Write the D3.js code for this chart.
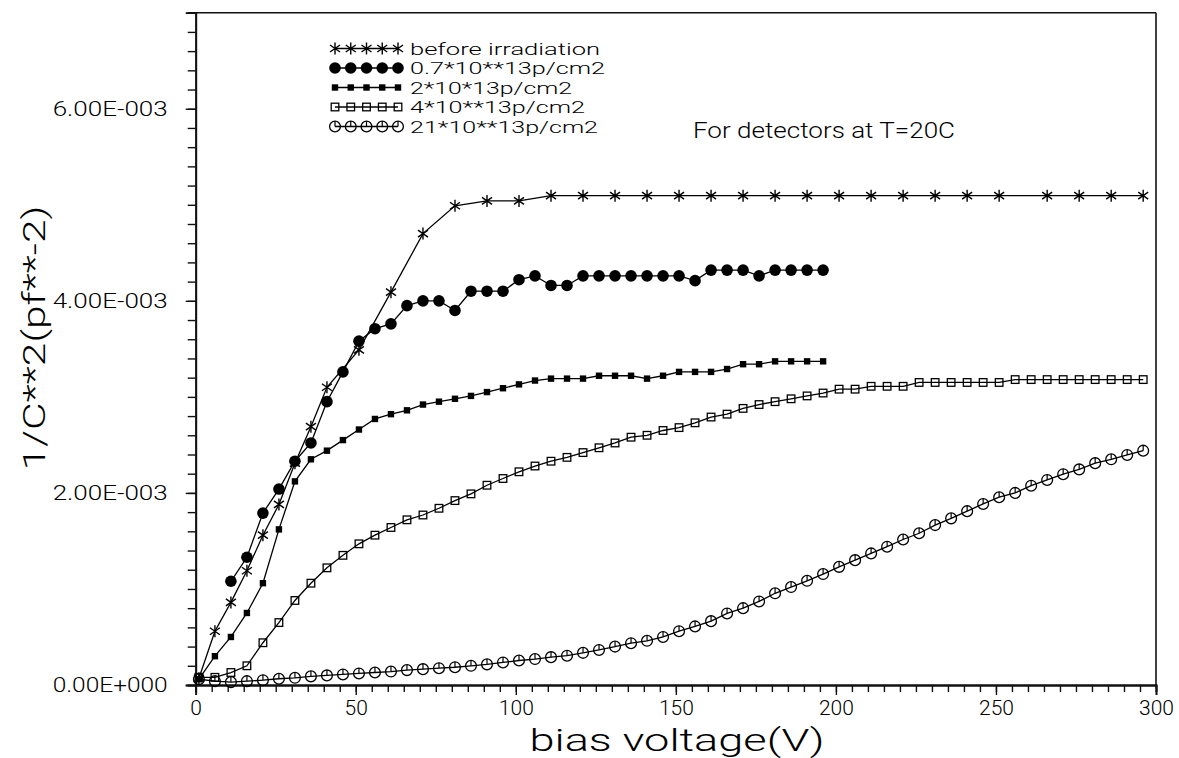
<!DOCTYPE html>
<html><head><meta charset="utf-8">
<script src="https://cdn.jsdelivr.net/npm/d3@7"></script>
<style>body{margin:0;background:#fff}svg{display:block}</style></head>
<body><svg id="c" width="1179" height="758"></svg>
<script>
// values in units of 1E-3 pF^-2, voltage in V
const beforeX = [1,6,11,16,21,26,31,36,41,51,61,71,81,91,101,111,121,131,141,151,161,171,181,191,201,211,221,231,241,251,266,276,286,296];
const beforeY = [0.07,0.56,0.86,1.19,1.56,1.88,2.31,2.69,3.10,3.49,4.09,4.70,4.99,5.04,5.04,5.095,5.095,5.095,5.095,5.095,5.095,5.095,5.095,5.095,5.095,5.095,5.095,5.095,5.095,5.095,5.095,5.095,5.095,5.095];
const s07X = d3.range(11, 197, 5);
const s07Y = [1.08,1.33,1.79,2.04,2.33,2.52,2.95,3.26,3.58,3.71,3.76,3.95,4.00,4.00,3.90,4.10,4.10,4.10,4.22,4.26,4.16,4.16,4.26,4.26,4.26,4.26,4.26,4.26,4.26,4.21,4.32,4.32,4.32,4.26,4.32,4.32,4.32,4.32];
const s2X = d3.range(1, 197, 5);
const s2Y = [0.06,0.30,0.50,0.75,1.06,1.62,2.12,2.35,2.44,2.55,2.66,2.77,2.82,2.86,2.92,2.95,2.98,3.01,3.05,3.09,3.13,3.17,3.19,3.19,3.19,3.22,3.22,3.22,3.19,3.22,3.26,3.26,3.26,3.29,3.34,3.34,3.37,3.37,3.37,3.37];
const s4X = d3.range(1, 297, 5);
const s4Y = [0.08,0.08,0.13,0.20,0.44,0.65,0.88,1.06,1.22,1.35,1.47,1.56,1.64,1.72,1.77,1.84,1.92,1.99,2.08,2.15,2.22,2.28,2.33,2.37,2.42,2.47,2.52,2.58,2.60,2.65,2.68,2.73,2.79,2.82,2.88,2.92,2.95,2.98,3.01,3.04,3.08,3.08,3.11,3.11,3.11,3.15,3.15,3.15,3.15,3.15,3.15,3.18,3.18,3.18,3.18,3.18,3.18,3.18,3.18,3.18];
const s21X = d3.range(1, 297, 5);
const s21Y = [0.06,0.04,0.03,0.04,0.05,0.065,0.075,0.09,0.10,0.11,0.12,0.13,0.14,0.155,0.165,0.175,0.185,0.20,0.215,0.235,0.255,0.27,0.29,0.305,0.335,0.365,0.40,0.435,0.46,0.50,0.56,0.61,0.665,0.745,0.80,0.87,0.955,1.02,1.085,1.155,1.23,1.30,1.37,1.44,1.515,1.58,1.665,1.735,1.81,1.885,1.955,2.00,2.075,2.135,2.195,2.245,2.31,2.35,2.395,2.44];

const seriesNames = ["before irradiation","0.7*10**13p/cm2","2*10*13p/cm2","4*10**13p/cm2","21*10**13p/cm2"];
const markerTypes = ["star","dot","fsq","osq","ocirc"];
const yTickValues = [0,2,4,6];
const yTickLabels = ["0.00E+000","2.00E-003","4.00E-003","6.00E-003"];
const xTickValues = [0,50,100,150,200,250,300];
const xTitle = "bias voltage(V)";
const yTitle = "1/C**2(pf**-2)";
const note = "For detectors at T=20C";

const series = [
  {x: beforeX, y: beforeY},
  {x: s07X, y: s07Y},
  {x: s2X, y: s2Y},
  {x: s4X, y: s4Y},
  {x: s21X, y: s21Y}
];

const FONT = "Roboto, 'DejaVu Sans', sans-serif";
const svg = d3.select("#c");
const x = d3.scaleLinear().domain([0,300]).range([195.7,1156]);
const y = d3.scaleLinear().domain([0,7]).range([685,12.7]);

// frame: top and right
svg.append("line").attr("x1",187.7).attr("x2",x(300)).attr("y1",y(7)).attr("y2",y(7)).attr("stroke","#111").attr("stroke-width",1.6);
svg.append("line").attr("x1",x(300)).attr("x2",x(300)).attr("y1",y(7)).attr("y2",y(0)).attr("stroke","#111").attr("stroke-width",1.6);

// y axis minor ticks
const yMinor = svg.append("g").attr("transform",`translate(${x(0)},0)`)
  .call(d3.axisLeft(y).tickValues(d3.range(0,7.001,0.2)).tickSize(8).tickFormat(""));
const yMajor = svg.append("g").attr("transform",`translate(${x(0)},0)`)
  .call(d3.axisLeft(y).tickValues(yTickValues).tickSize(10).tickPadding(18).tickFormat((d,i)=>yTickLabels[i]));
// x axis
const xMinor = svg.append("g").attr("transform",`translate(0,${y(0)})`)
  .call(d3.axisBottom(x).tickValues(d3.range(0,300.001,5)).tickSize(7).tickFormat(""));
const xMajor = svg.append("g").attr("transform",`translate(0,${y(0)})`)
  .call(d3.axisBottom(x).tickValues(xTickValues).tickSize(10).tickPadding(5).tickFormat(d3.format("d")));
[yMinor,yMajor,xMinor,xMajor].forEach(g=>{
  g.selectAll(".domain").attr("stroke","#111").attr("stroke-width",1.8);
  g.selectAll(".tick line").attr("stroke","#111").attr("stroke-width",1.4);
  g.selectAll("text").attr("font-family",FONT).attr("font-weight",300).attr("fill","#000");
});
yMajor.selectAll("text").attr("font-size",21).attr("textLength",115).attr("lengthAdjust","spacingAndGlyphs");
xMajor.selectAll("text").attr("font-size",21);

// titles
svg.append("text").attr("x",677).attr("y",751).attr("text-anchor","middle")
  .attr("font-family",FONT).attr("font-weight",300).attr("font-size",32)
  .attr("textLength",295).attr("lengthAdjust","spacingAndGlyphs").text(xTitle);
svg.append("text").attr("transform","translate(45,338) rotate(-90)").attr("text-anchor","middle")
  .attr("font-family",FONT).attr("font-weight",300).attr("font-size",32)
  .attr("textLength",265).attr("lengthAdjust","spacingAndGlyphs").text(yTitle);
svg.append("text").attr("x",693).attr("y",138)
  .attr("font-family",FONT).attr("font-weight",300).attr("font-size",22)
  .attr("textLength",262).attr("lengthAdjust","spacingAndGlyphs").text(note);

function drawMarker(g, type, cx, cy){
  const s = "#000";
  if(type==="star"){
    g.append("path").attr("d",`M${cx},${cy-6}L${cx},${cy+6}M${cx-5},${cy-3.5}L${cx+5},${cy+3.5}M${cx-5},${cy+3.5}L${cx+5},${cy-3.5}`)
      .attr("stroke",s).attr("stroke-width",1.4).attr("fill","none");
  } else if(type==="dot"){
    g.append("circle").attr("cx",cx).attr("cy",cy).attr("r",5.8).attr("fill",s);
  } else if(type==="fsq"){
    g.append("rect").attr("x",cx-3.2).attr("y",cy-3.2).attr("width",6.4).attr("height",6.4).attr("fill",s);
  } else if(type==="osq"){
    g.append("rect").attr("x",cx-3.8).attr("y",cy-3.8).attr("width",7.6).attr("height",7.6).attr("fill","none").attr("stroke",s).attr("stroke-width",1.3);
  } else if(type==="ocirc"){
    g.append("circle").attr("cx",cx).attr("cy",cy).attr("r",5.4).attr("fill","none").attr("stroke",s).attr("stroke-width",1.3);
    g.append("path").attr("d",`M${cx},${cy-5.4}L${cx},${cy}`).attr("stroke",s).attr("stroke-width",1.2);
  }
}

const line = d3.line().x(d=>x(d[0])).y(d=>y(d[1]));
series.forEach((s,i)=>{
  const pts = s.x.map((v,j)=>[v,s.y[j]]);
  const g = svg.append("g");
  g.append("path").attr("d",line(pts)).attr("fill","none").attr("stroke","#000").attr("stroke-width",1.3);
  pts.forEach(p=>drawMarker(g, markerTypes[i], x(p[0]), y(p[1])));
});

// legend
const legY = [48.5,68,87.5,107,126.5];
const legW = [190,195,162,175,188];
seriesNames.forEach((name,i)=>{
  const g = svg.append("g");
  const xs = d3.range(5).map(k=>335+k*15.75);
  g.append("line").attr("x1",335).attr("x2",398).attr("y1",legY[i]).attr("y2",legY[i]).attr("stroke","#000").attr("stroke-width",1.3);
  xs.forEach(xx=>drawMarker(g, markerTypes[i], xx, legY[i]));
  g.append("text").attr("x",410).attr("y",legY[i]).attr("dy","0.36em")
    .attr("font-family",FONT).attr("font-weight",300).attr("font-size",17)
    .attr("textLength",legW[i]).attr("lengthAdjust","spacingAndGlyphs").text(name);
});
</script>
</body></html>
